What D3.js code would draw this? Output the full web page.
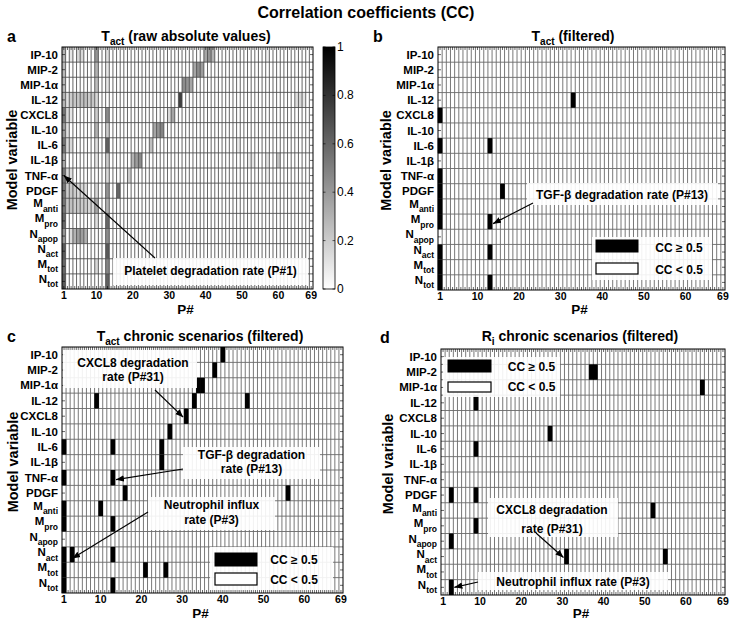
<!DOCTYPE html>
<html><head><meta charset="utf-8">
<script src="https://cdn.jsdelivr.net/npm/d3@7/dist/d3.min.js"></script>
<style>
body{margin:0;background:#fff;}
svg text{font-family:"Liberation Sans",Arial,Helvetica,sans-serif;}
</style></head><body>
<svg id="chart" width="732" height="623"></svg>
<script>
// ---------------- DATA ----------------
const params = d3.range(1, 70);               // P# 1..69
const rowLabels = ["IP-10","MIP-2","MIP-1α","IL-12","CXCL8","IL-10","IL-6","IL-1β","TNF-α","PDGF",
                   "M_anti","M_pro","N_apop","N_act","M_tot","N_tot"];
const xTickValues = [1,10,20,30,40,50,60,69];
const colorbarTicks = [0,0.2,0.4,0.6,0.8,1];
const threshold = 0.5;

// Panel a: raw absolute CC, per row as [P#, |CC|] (unlisted cells ~ 0)
const rawCC = [
  [[1,0.3],[3,0.1],[5,0.15],[6,0.15],[10,0.42],[13,0.12],[40,0.35],[41,0.42],[42,0.3],[57,0.06]],
  [[1,0.28],[10,0.3],[13,0.1],[37,0.35],[38,0.45],[39,0.38]],
  [[1,0.28],[10,0.25],[13,0.1],[34,0.45],[35,0.42],[36,0.35]],
  [[1,0.3],[2,0.12],[3,0.2],[4,0.22],[5,0.22],[6,0.25],[7,0.25],[8,0.2],[9,0.22],[10,0.15],[33,0.75],[65,0.12],[66,0.15],[67,0.1]],
  [[1,0.55],[2,0.15],[3,0.1],[10,0.2],[13,0.45],[30,0.15],[31,0.35]],
  [[1,0.4],[2,0.12],[10,0.3],[13,0.2],[26,0.35],[27,0.42],[28,0.48]],
  [[1,0.55],[2,0.15],[3,0.15],[10,0.12],[13,0.62],[25,0.25],[49,0.08]],
  [[1,0.35],[10,0.1],[13,0.2],[20,0.3],[21,0.38],[22,0.45],[52,0.08],[53,0.1],[57,0.1],[60,0.22]],
  [[1,0.55],[2,0.15],[3,0.12],[13,0.15],[19,0.2],[57,0.06]],
  [[1,0.55],[2,0.2],[3,0.22],[4,0.2],[5,0.15],[6,0.15],[7,0.12],[10,0.15],[13,0.42],[16,0.6]],
  [[1,0.55],[2,0.22],[3,0.25],[4,0.2],[5,0.22],[6,0.2],[7,0.2],[8,0.15],[9,0.15],[10,0.35],[13,0.3]],
  [[1,0.6],[10,0.12],[13,0.6]],
  [[1,0.42],[3,0.15],[4,0.3],[5,0.38],[6,0.38],[7,0.3],[13,0.45]],
  [[1,0.65],[13,0.65]],
  [[1,0.6],[10,0.15],[13,0.48]],
  [[1,0.65],[13,0.62]]
];
// Panels b-d: P# with CC >= 0.5, per row
const filteredB = [[],[],[],[33],[1],[],[1,13],[],[1],[1,16],[1],[1,13],[],[1,13],[1],[1,13]];
const chronicC  = [[40],[38],[34,35],[9,33,46],[31],[27],[1,13,25],[25],[1,13],[16,56],[1,10],[1,13],[],[1,3,13],[1,21,26],[1,13]];
const chronicD  = [[],[37,38],[64],[9],[],[27],[9],[],[],[3,9],[52],[9],[3],[31,55],[],[3]];

// ---------------- DRAW ----------------
const svg = d3.select("#chart");
svg.append("rect").attr("width",732).attr("height",623).attr("fill","#fff");
const defs = svg.append("defs");
defs.append("marker").attr("id","arrow").attr("viewBox","0 0 10 10")
  .attr("refX",10).attr("refY",5).attr("markerWidth",8).attr("markerHeight",8)
  .attr("markerUnits","userSpaceOnUse").attr("orient","auto")
  .append("path").attr("d","M0,1 L10,5 L0,9 z").attr("fill","#000");
const grad = defs.append("linearGradient").attr("id","cbGrad").attr("x1",0).attr("y1",1).attr("x2",0).attr("y2",0);
grad.append("stop").attr("offset","0%").attr("stop-color","#fff");
grad.append("stop").attr("offset","100%").attr("stop-color","#000");

const colorScale = d3.scaleLinear().domain([0,1]).range(["#ffffff","#000000"]);

svg.append("text").attr("x",366).attr("y",18).attr("text-anchor","middle")
  .attr("font-weight","bold").attr("font-size",16).text("Correlation coefficients (CC)");

function subText(sel, main, sub, rest, subSize, shift){
  sel.append("tspan").text(main);
  if(sub) sel.append("tspan").attr("font-size",subSize).attr("dy",shift).text(sub);
  if(rest) sel.append("tspan").attr("dy", sub ? -shift : 0).text(rest);
}

const panels = [
  {left:62, right:313, top:47, bottom:289, letter:"a", lx:7, ly:42, tx:186, ty:41, tMain:"T", tSub:"act", tRest:" (raw absolute values)", ylx:17, pY:314, raw:true, gridColor:"#4a4a4a", gw:0.85},
  {left:438, right:725, top:47, bottom:290, letter:"b", lx:373, ly:42, tx:573, ty:41, tMain:"T", tSub:"act", tRest:" (filtered)", ylx:391, pY:314, cells:filteredB, gridColor:"#6a6a6a", gw:0.9},
  {left:62, right:343, top:347, bottom:593, letter:"c", lx:7, ly:342, tx:200, ty:341, tMain:"T", tSub:"act", tRest:" chronic scenarios (filtered)", ylx:18, pY:618, cells:chronicC, gridColor:"#6a6a6a", gw:0.9},
  {left:441, right:725, top:349, bottom:595, letter:"d", lx:380, ly:343, tx:580, ty:341, tMain:"R", tSub:"i", tRest:" chronic scenarios (filtered)", ylx:393, pY:618, cells:chronicD, gridColor:"#6a6a6a", gw:0.9}
];

panels.forEach(p => {
  const g = svg.append("g");
  const x = d3.scaleBand().domain(params).range([p.left, p.right]);
  const y = d3.scaleBand().domain(d3.range(rowLabels.length)).range([p.top, p.bottom]);
  p.x = x; p.y = y;

  g.append("rect").attr("x",p.left).attr("y",p.top).attr("width",p.right-p.left).attr("height",p.bottom-p.top).attr("fill","#fff");

  const vLines = params.slice(1).map(pn => x(pn));
  const hLines = d3.range(1, rowLabels.length).map(i => y(i));
  function drawGrid(){
    g.append("g").selectAll("line").data(vLines).join("line")
      .attr("x1",d=>d).attr("x2",d=>d).attr("y1",p.top).attr("y2",p.bottom)
      .attr("stroke",p.gridColor).attr("stroke-width",p.gw);
    g.append("g").selectAll("line").data(hLines).join("line")
      .attr("y1",d=>d).attr("y2",d=>d).attr("x1",p.left).attr("x2",p.right)
      .attr("stroke",p.gridColor).attr("stroke-width",p.gw);
  }

  if(p.raw){
    const cells = [];
    rawCC.forEach((row,i) => {
      const m = new Map(row);
      params.forEach(pn => cells.push({i, pn, v: m.get(pn) || 0}));
    });
    g.append("g").selectAll("rect").data(cells.filter(c=>c.v>0)).join("rect")
      .attr("x",c=>x(c.pn)).attr("y",c=>y(c.i)).attr("width",x.bandwidth()).attr("height",y.bandwidth())
      .attr("fill",c=>colorScale(c.v));
    drawGrid();
  } else {
    drawGrid();
    const cells = [];
    p.cells.forEach((row,i) => row.forEach(pn => cells.push({i, pn})));
    g.append("g").selectAll("rect").data(cells).join("rect")
      .attr("x",c=>x(c.pn)-0.3).attr("y",c=>y(c.i)).attr("width",x.bandwidth()+0.6).attr("height",y.bandwidth())
      .attr("fill","#000");
  }

  // minor ticks (inward)
  const tk = g.append("g").attr("stroke","#000").attr("stroke-width",0.6);
  params.forEach(pn => {
    const cx = x(pn) + x.bandwidth()/2;
    tk.append("line").attr("x1",cx).attr("x2",cx).attr("y1",p.top).attr("y2",p.top+3);
    tk.append("line").attr("x1",cx).attr("x2",cx).attr("y1",p.bottom).attr("y2",p.bottom-3);
  });
  rowLabels.forEach((l,i) => {
    const cy = y(i) + y.bandwidth()/2;
    tk.append("line").attr("x1",p.left).attr("x2",p.left+3).attr("y1",cy).attr("y2",cy);
    tk.append("line").attr("x1",p.right).attr("x2",p.right-3).attr("y1",cy).attr("y2",cy);
  });

  g.append("rect").attr("x",p.left).attr("y",p.top).attr("width",p.right-p.left).attr("height",p.bottom-p.top)
    .attr("fill","none").attr("stroke","#000").attr("stroke-width",1);

  // x axis
  const xa = g.append("g").attr("transform",`translate(0,${p.bottom})`)
    .call(d3.axisBottom(x).tickValues(xTickValues).tickSize(0).tickPadding(3));
  xa.select(".domain").remove();
  xa.selectAll("text").attr("font-size",10.5).attr("font-weight","bold").attr("fill","#000")
    .style("font-family",'"Liberation Sans",Arial,sans-serif');
  g.append("text").attr("x",(p.left+p.right)/2 - 2).attr("y",p.pY).attr("text-anchor","middle")
    .attr("font-size",13.5).attr("font-weight","bold").text("P#");

  // y labels
  rowLabels.forEach((l,i) => {
    const cy = y(i) + y.bandwidth()/2;
    const parts = l.split("_");
    const t = g.append("text").attr("x",p.left-4).attr("text-anchor","end")
      .attr("font-size",11.5).attr("font-weight","bold");
    if(parts.length>1){ t.attr("y",cy+1.5); subText(t, parts[0], parts[1], null, 8.5, 4.5); }
    else { t.attr("y",cy+4).text(l); }
  });
  g.append("text").attr("transform",`translate(${p.ylx},${(p.top+p.bottom)/2-8}) rotate(-90)`)
    .attr("text-anchor","middle").attr("font-size",14.5).attr("font-weight","bold").text("Model variable");

  // panel letter and title
  g.append("text").attr("x",p.lx).attr("y",p.ly).attr("font-size",16).attr("font-weight","bold").text(p.letter);
  const tt = g.append("text").attr("x",p.tx).attr("y",p.ty).attr("text-anchor","middle")
    .attr("font-size",14).attr("font-weight","bold");
  subText(tt, p.tMain, p.tSub, p.tRest, 10, 3.5);
});

// colorbar for panel a
(function(){
  const p = panels[0];
  const cb = svg.append("g");
  const cx0 = 323, cx1 = 335;
  const cy = d3.scaleLinear().domain([0,1]).range([p.bottom, p.top]);
  cb.append("rect").attr("x",cx0).attr("y",p.top).attr("width",cx1-cx0).attr("height",p.bottom-p.top)
    .attr("fill","url(#cbGrad)").attr("stroke","#000").attr("stroke-width",0.8);
  colorbarTicks.forEach(v => {
    cb.append("line").attr("x1",cx0).attr("x2",cx0+2.5).attr("y1",cy(v)).attr("y2",cy(v)).attr("stroke","#000").attr("stroke-width",0.6);
    cb.append("line").attr("x1",cx1).attr("x2",cx1-2.5).attr("y1",cy(v)).attr("y2",cy(v)).attr("stroke","#000").attr("stroke-width",0.6);
    cb.append("text").attr("x",cx1+2).attr("y",cy(v)+4).attr("font-size",12).text(v);
  });
})();

// annotations
function box(x0,y0,x1,y1){
  svg.append("rect").attr("x",x0).attr("y",y0).attr("width",x1-x0).attr("height",y1-y0)
    .attr("fill","#fff").attr("fill-opacity",0.9);
}
function label(x,y,txt,size){
  svg.append("text").attr("x",x).attr("y",y).attr("text-anchor","middle")
    .attr("font-size",size||12).attr("font-weight","bold").text(txt);
}
function arrow(x0,y0,x1,y1){
  svg.append("line").attr("x1",x0).attr("y1",y0).attr("x2",x1).attr("y2",y1)
    .attr("stroke","#000").attr("stroke-width",1.2).attr("marker-end","url(#arrow)");
}
function legend(x0,y0,x1,y1,sx0,sx1,sy1a,sy1b,sy2a,sy2b,tx,t1,t2){
  box(x0,y0,x1,y1);
  svg.append("rect").attr("x",sx0).attr("y",sy1a).attr("width",sx1-sx0).attr("height",sy1b-sy1a).attr("fill","#000").attr("stroke","#000");
  svg.append("rect").attr("x",sx0).attr("y",sy2a).attr("width",sx1-sx0).attr("height",sy2b-sy2a).attr("fill","#fff").attr("stroke","#000").attr("stroke-width",1.2);
  label(tx,t1,"CC ≥ 0.5"); label(tx,t2,"CC < 0.5");
}
const cellC = (p,pn) => p.x(pn) + p.x.bandwidth()/2;
const rowC = (p,i) => p.y(i) + p.y.bandwidth()/2;
const [pa,pb,pc,pd] = panels;

// a
box(113,258,308,285);
label(210.5,275,"Platelet degradation rate (P#1)");
arrow(155,258, cellC(pa,1), rowC(pa,8));

// b
box(527,183,718,205);
label(622,199,"TGF-β degradation rate (P#13)");
arrow(533,203, pb.x(13)+pb.x.bandwidth()+1, rowC(pb,11)+2);
legend(592,237,712,280, 596,638, 240,252, 263,274, 679,252,274);

// c
box(63,350,197,388);
label(133,367,"CXCL8 degradation"); label(133,381,"rate (P#31)");
arrow(155,390, pc.x(31)-1, rowC(pc,4)+1);
box(183,447,320,479);
label(251.5,458.5,"TGF-β degradation"); label(251.5,472.5,"rate (P#13)");
arrow(183,469, pc.x(13)+pc.x.bandwidth()+1, rowC(pc,8)+2);
box(148,497,275,530);
label(211.5,509,"Neutrophil influx"); label(211.5,524,"rate (P#3)");
arrow(148,512, cellC(pc,3), rowC(pc,13)+4);
legend(210,547,333,590, 215,257, 553,566, 573,585, 294,564,584);

// d
legend(443,357,560,397, 448,491, 360,372, 382,392, 531.5,371,391);
box(488,498,618,537);
label(552,514,"CXCL8 degradation"); label(552,533,"rate (P#31)");
arrow(536,533, pd.x(31)-1, rowC(pd,13)+1);
box(478,572,668,590);
label(573,586,"Neutrophil influx rate (P#3)");
arrow(478,582, pd.x(3)+pd.x.bandwidth()+1, rowC(pd,15));
</script>
</body></html>
